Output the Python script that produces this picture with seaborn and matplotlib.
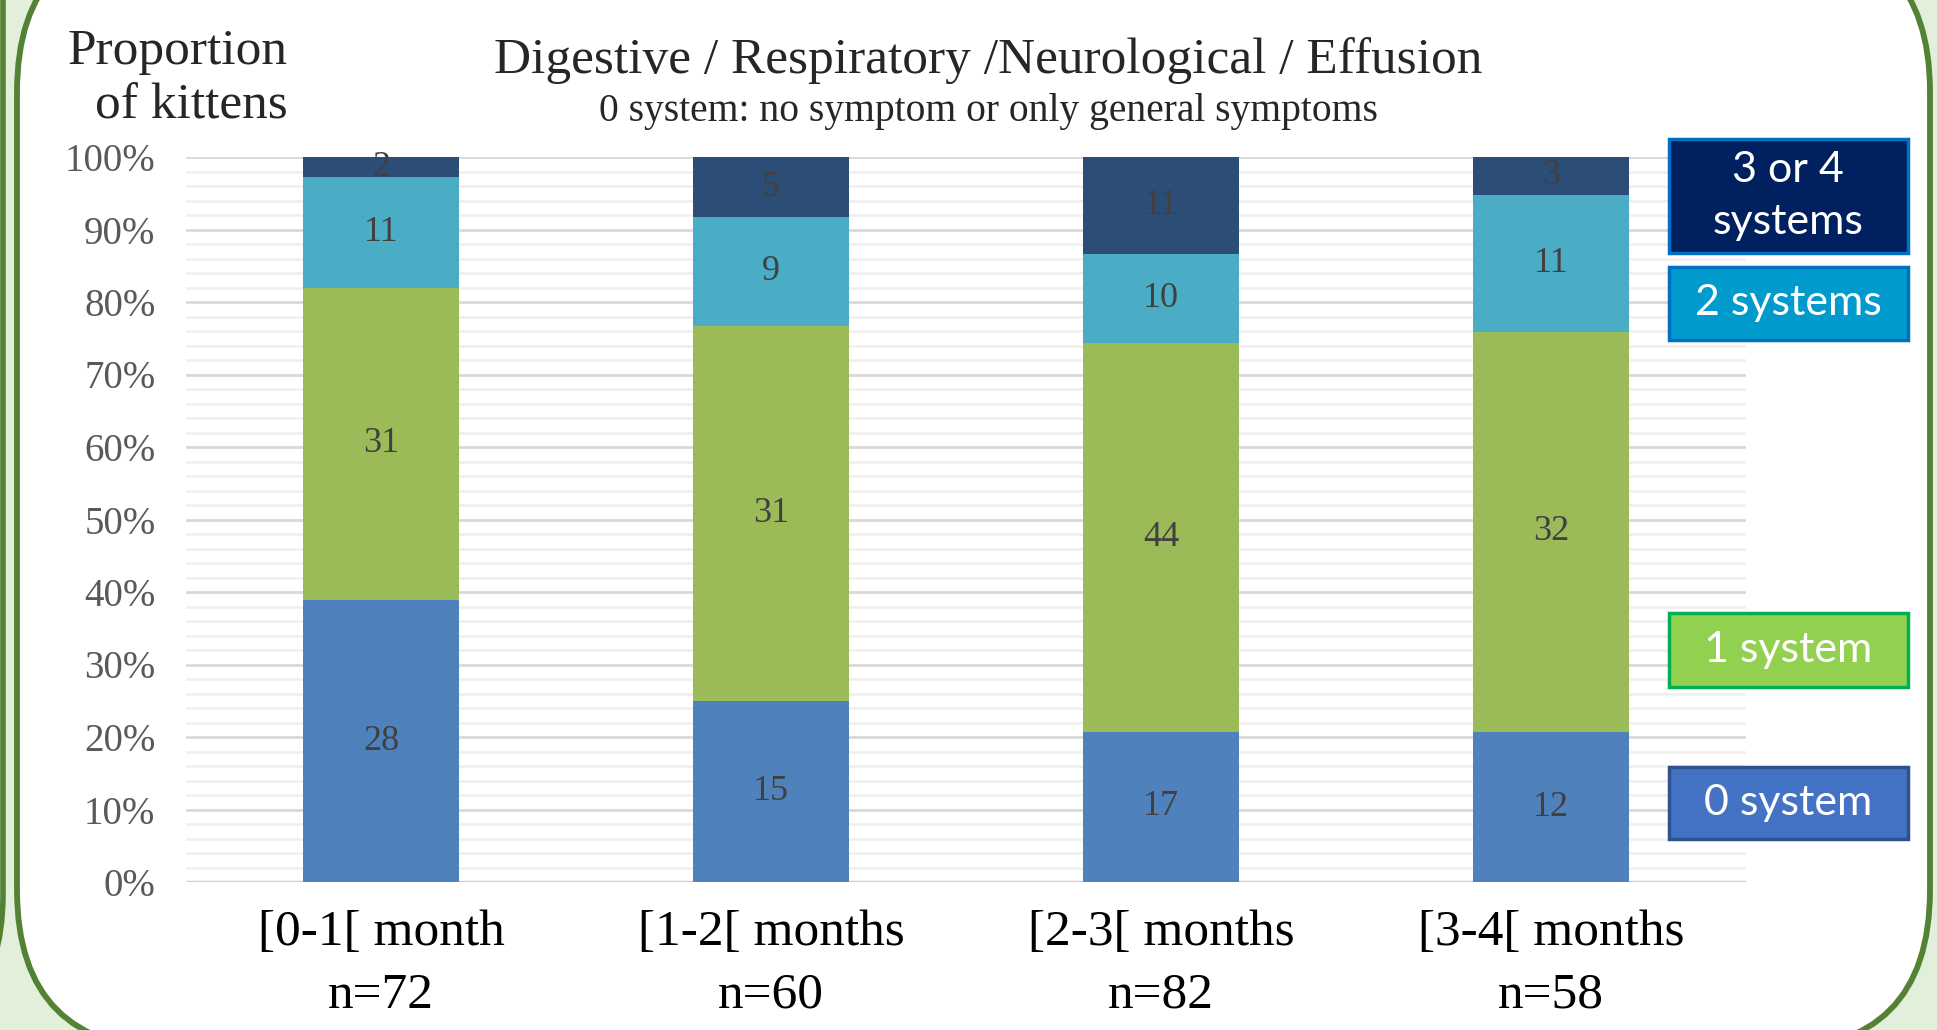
import numpy as np
import pandas as pd
import matplotlib
matplotlib.use('Agg')
import matplotlib.pyplot as plt
import seaborn as sns
from matplotlib.patches import FancyBboxPatch, Rectangle
from matplotlib.transforms import IdentityTransform

# data (number of kittens per age group)
age_groups = ['[0-1[ month', '[1-2[ months', '[2-3[ months', '[3-4[ months']
n_kittens = [72, 60, 82, 58]
systems = ['0 system', '1 system', '2 systems', '3 or 4\nsystems']
zero_sys = [28, 15, 17, 12]
one_sys = [31, 31, 44, 32]
two_sys = [11, 9, 10, 11]
three_four_sys = [2, 5, 11, 3]
y_ticks = [0, 10, 20, 30, 40, 50, 60, 70, 80, 90, 100]

bar_colors = ['#4F81BD', '#9BBB59', '#4BACC6', '#2C4D75']
box_colors = ['#4472C4', '#92D050', '#009ACD', '#002060']
box_edges = ['#2F528F', '#00B050', '#0070C0', '#0070C0']

sns.set_theme(style='white')
plt.rcParams['font.family'] = ['Liberation Serif', 'DejaVu Serif']

df = pd.DataFrame({'age': age_groups, 'n': n_kittens,
                   's0': zero_sys, 's1': one_sys, 's2': two_sys, 's3': three_four_sys})
cols = ['s0', 's1', 's2', 's3']
pct = df[cols].div(df[cols].sum(axis=1), axis=0) * 100
cum = pct.cumsum(axis=1)
for c in cols:
    df['cum_' + c] = cum[c]

W, H = 1937, 1030
fig = plt.figure(figsize=(W / 100, H / 100), dpi=100)
fig.patch.set_facecolor('#E2EFDA')

# slide frame: neighbouring panel edge and the main rounded panel
fig.add_artist(FancyBboxPatch((-500, -13), 503, 1200, boxstyle='round,pad=0,rounding_size=148',
                              transform=IdentityTransform(), fc='#E2EFDA', ec='#548235', lw=4, zorder=-20))
fig.add_artist(FancyBboxPatch((17, -20), 1913, 1118, boxstyle='round,pad=0,rounding_size=160',
                              transform=IdentityTransform(), fc='white', ec='#548235', lw=4.2, zorder=-10))

ax = fig.add_axes([186 / W, 148 / H, 1560 / W, 725 / H])
ax.set_facecolor('none')

# stacked bars: draw cumulative layers from the top down
for i in reversed(range(4)):
    sns.barplot(data=df, x='age', y='cum_' + cols[i], order=age_groups, color=bar_colors[i],
                saturation=1, width=0.4, errorbar=None, linewidth=0, ax=ax, zorder=2)

# segment count labels
for j in range(len(age_groups)):
    base = 0
    for c in cols:
        v = pct.loc[j, c]
        ax.text(j, base + v / 2, str(df.loc[j, c]), ha='center', va='center',
                fontsize=26, color='#404040', zorder=3)
        base += v

ax.set_xlim(-0.5, 3.5)
ax.set_ylim(0, 100)
ax.set_yticks(y_ticks)
ax.set_yticks(np.arange(0, 101, 2), minor=True)
ax.set_yticklabels([f'{t}%' for t in y_ticks], fontsize=28, color='#595959')
ax.grid(which='minor', axis='y', color='#F0F0F0', lw=2)
ax.grid(which='major', axis='y', color='#D9D9D9', lw=2)
ax.set_axisbelow(True)
ax.axhline(0, color='#D0D0D0', lw=2.5, zorder=1)
ax.tick_params(axis='y', which='both', length=0, pad=22)
ax.set_xticks(range(4))
ax.set_xticklabels([f'{g}\nn={n}' for g, n in zip(age_groups, n_kittens)], fontsize=37, color='black')
ax.tick_params(axis='x', length=0, pad=20)
for t in ax.get_xticklabels():
    t.set_linespacing(1.45)
ax.set_xlabel('')
ax.set_ylabel('')
sns.despine(ax=ax, left=True, bottom=True)

# texts
fig.text(288 / W, 1 - 79 / H, 'Proportion\nof kittens', ha='right', va='center',
         multialignment='right', fontsize=37, linespacing=1.25)
fig.text(988 / W, 1 - 61 / H, 'Digestive / Respiratory /Neurological / Effusion',
         ha='center', va='center', fontsize=37)
fig.text(988 / W, 1 - 111 / H, '0 system: no symptom or only general symptoms',
         ha='center', va='center', fontsize=28.5)

# legend boxes on the right
box_y = [(767, 839), (613, 687), (267, 340), (139, 253)]
for lab, fc, ec, (yt, yb) in zip(systems, box_colors, box_edges, box_y):
    fig.add_artist(Rectangle((1669 / W, 1 - yb / H), 239 / W, (yb - yt) / H,
                             transform=fig.transFigure, fc=fc, ec=ec, lw=2.5))
    fig.text(1788 / W, 1 - (yt + yb) / 2 / H, lab, ha='center', va='center', color='white',
             fontsize=31, family=['Lato', 'DejaVu Sans'], linespacing=1.45)

fig.savefig('out.png', dpi=100, facecolor=fig.get_facecolor())
